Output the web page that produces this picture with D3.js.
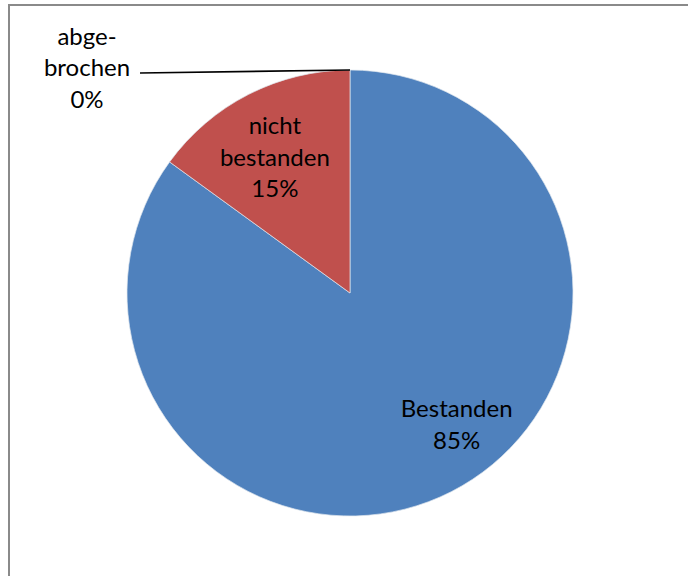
<!DOCTYPE html>
<html>
<head>
<meta charset="utf-8">
<script src="https://cdn.jsdelivr.net/npm/d3@7"></script>
<style>
  html, body { margin: 0; padding: 0; background: #fff; }
  svg { display: block; }
</style>
</head>
<body>
<script>
// Prüfungsergebnisse
const categories = ["Bestanden", "nicht bestanden", "abgebrochen"];
const values = [85, 15, 0];
const labelLines = [["Bestanden"], ["nicht", "bestanden"], ["abge-", "brochen"]];
const colors = ["#4F81BD", "#C0504D", "#9BBB59"];

const width = 688, height = 576;
const cx = 350, cy = 293, radius = 223;
const fontFamily = "Lato, 'Open Sans', sans-serif";
const fontSize = 24;
const lineHeight = 31.5;

// label placement relative to each slice: shift of angle (deg) and radius fraction
const labelPlacement = {
  "Bestanden": { dAngle: -12, r: 0.76 },
  "nicht bestanden": { dAngle: -2, r: 0.695 }
};

const svg = d3.select("body").append("svg")
  .attr("width", width).attr("height", height);

// chart frame
svg.append("rect")
  .attr("x", 9).attr("y", 5)
  .attr("width", width + 20).attr("height", height + 20)
  .attr("fill", "none").attr("stroke", "#8a8a8a").attr("stroke-width", 2);

const data = categories.map((c, i) => ({ name: c, value: values[i], lines: labelLines[i], color: colors[i] }));

const pie = d3.pie().sort(null).value(d => d.value);
const arcs = pie(data);
const arc = d3.arc().innerRadius(0).outerRadius(radius);

const g = svg.append("g").attr("transform", `translate(${cx},${cy})`);

g.selectAll("path.slice")
  .data(arcs.filter(a => a.data.value > 0))
  .join("path")
  .attr("class", "slice")
  .attr("d", arc)
  .attr("fill", d => d.data.color)
  .attr("stroke", "#dfe6ee")
  .attr("stroke-width", 0.7);

const fmt = v => Math.round(v / d3.sum(values) * 100) + "%";

function drawLabel(x, y, lines, anchor) {
  const t = svg.append("text")
    .attr("font-family", fontFamily)
    .attr("font-size", fontSize)
    .attr("fill", "#000")
    .attr("text-anchor", anchor || "middle");
  const n = lines.length;
  lines.forEach((ln, i) => {
    t.append("tspan")
      .attr("x", x)
      .attr("y", y + (i - (n - 1) / 2) * lineHeight)
      .attr("dy", "0.35em")
      .text(ln);
  });
}

arcs.forEach(a => {
  const d = a.data;
  const lines = d.lines.concat([fmt(d.value)]);
  if (d.value > 0) {
    const p = labelPlacement[d.name];
    const mid = (a.startAngle + a.endAngle) / 2 + p.dAngle * Math.PI / 180;
    const r = radius * p.r;
    drawLabel(cx + r * Math.sin(mid), cy - r * Math.cos(mid), lines);
  } else {
    // zero slice: label outside with a leader line to the rim
    const ang = a.startAngle;
    const px = cx + radius * Math.sin(ang), py = cy - radius * Math.cos(ang);
    const lx = 87, ly = 72;
    svg.append("line")
      .attr("x1", px).attr("y1", py)
      .attr("x2", lx + 53).attr("y2", ly + 1)
      .attr("stroke", "#000").attr("stroke-width", 1.6);
    drawLabel(lx, ly - 4, lines);
  }
});
</script>
</body>
</html>
